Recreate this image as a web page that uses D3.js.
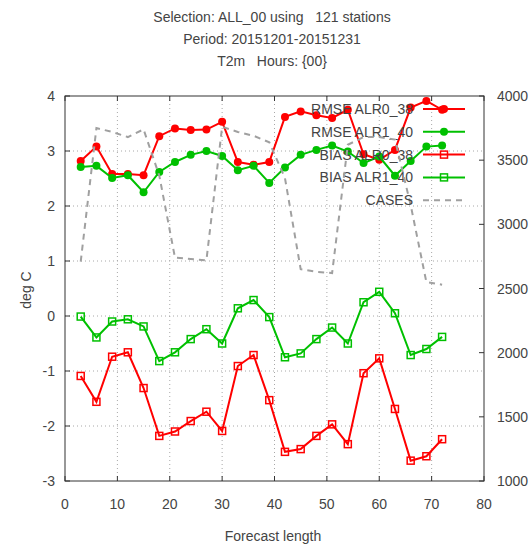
<!DOCTYPE html>
<html>
<head>
<meta charset="utf-8">
<script src="https://d3js.org/d3.v7.min.js"></script>
<style>
  body { margin: 0; background: #fff; }
  svg { display: block; font-family: "Liberation Sans", Arial, sans-serif; }
  .lbl { fill: #444; font-size: 14px; }
</style>
</head>
<body>
<svg width="532" height="549"></svg>
<script>
// forecast hours
const hours = [3, 6, 9, 12, 15, 18, 21, 24, 27, 30, 33, 36, 39, 42, 45, 48, 51, 54, 57, 60, 63, 66, 69, 72];

const rmseAlr0 = [2.82, 3.08, 2.58, 2.58, 2.56, 3.27, 3.41, 3.38, 3.39, 3.53, 2.80, 2.75, 2.80, 3.62, 3.72, 3.65, 3.60, 3.75, 2.94, 2.84, 3.02, 3.79, 3.91, 3.75];
const rmseAlr1 = [2.71, 2.73, 2.51, 2.56, 2.25, 2.62, 2.80, 2.93, 3.00, 2.91, 2.65, 2.73, 2.42, 2.70, 2.93, 3.02, 3.10, 2.99, 2.78, 2.90, 2.55, 2.82, 3.08, 3.10];
const biasAlr0 = [-1.09, -1.56, -0.74, -0.66, -1.31, -2.18, -2.10, -1.91, -1.74, -2.09, -0.91, -0.71, -1.53, -2.47, -2.42, -2.18, -1.97, -2.33, -1.04, -0.77, -1.69, -2.63, -2.55, -2.24];
const biasAlr1 = [-0.01, -0.39, -0.10, -0.06, -0.19, -0.82, -0.66, -0.42, -0.24, -0.50, 0.14, 0.29, -0.02, -0.75, -0.68, -0.42, -0.21, -0.50, 0.25, 0.44, 0.05, -0.71, -0.60, -0.38];
const cases = [2710, 3750, 3720, 3680, 3740, 3380, 2740, 2730, 2720, 3760, 3720, 3690, 3640, 3360, 2650, 2630, 2620, 3620, 3680, 3680, 3660, 3150, 2550, 2530];

const xTicks = [0, 10, 20, 30, 40, 50, 60, 70, 80];
const yTicks = [-3, -2, -1, 0, 1, 2, 3, 4];
const y2Ticks = [1000, 1500, 2000, 2500, 3000, 3500, 4000];

const titleLines = ["Selection: ALL_00 using   121 stations", "Period: 20151201-20151231", "T2m   Hours: {00}"];

const series = [
    { name: "RMSE ALR0_38", values: rmseAlr0, color: "#ff0000", marker: "circle", axis: "y" },
    { name: "RMSE ALR1_40", values: rmseAlr1, color: "#00c000", marker: "circle", axis: "y" },
    { name: "BIAS ALR0_38", values: biasAlr0, color: "#ff0000", marker: "square", axis: "y" },
    { name: "BIAS ALR1_40", values: biasAlr1, color: "#00c000", marker: "square", axis: "y" },
    { name: "CASES", values: cases, color: "#a0a0a0", marker: "none", axis: "y2" }
];

const svg = d3.select("svg");
const pLeft = 65, pRight = 484, pTop = 96, pBottom = 481;

const x = d3.scaleLinear().domain([0, 80]).range([pLeft, pRight]);
const y = d3.scaleLinear().domain([-3, 4]).range([pBottom, pTop]);
const y2 = d3.scaleLinear().domain([1000, 4000]).range([pBottom, pTop]);

// grid
const grid = svg.append("g").attr("stroke", "#a8a8a8").attr("stroke-width", 1).attr("stroke-dasharray", "1,3");
grid.selectAll("line.gx")
    .data(xTicks.slice(1, -1))
    .join("line")
    .attr("x1", d => x(d)).attr("x2", d => x(d))
    .attr("y1", pTop).attr("y2", pBottom);
grid.selectAll("line.gy")
    .data(yTicks.slice(1, -1))
    .join("line")
    .attr("x1", pLeft).attr("x2", pRight)
    .attr("y1", d => y(d)).attr("y2", d => y(d));

// ticks (inward, mirrored)
const ticks = svg.append("g").attr("stroke", "#333").attr("stroke-width", 1);
for (const t of xTicks) {
    ticks.append("line").attr("x1", x(t)).attr("x2", x(t)).attr("y1", pBottom).attr("y2", pBottom - 5);
    ticks.append("line").attr("x1", x(t)).attr("x2", x(t)).attr("y1", pTop).attr("y2", pTop + 5);
}
for (const t of yTicks) {
    ticks.append("line").attr("x1", pLeft).attr("x2", pLeft + 5).attr("y1", y(t)).attr("y2", y(t));
}
for (const t of y2Ticks) {
    ticks.append("line").attr("x1", pRight).attr("x2", pRight - 5).attr("y1", y2(t)).attr("y2", y2(t));
}

// border
svg.append("rect")
    .attr("x", pLeft).attr("y", pTop)
    .attr("width", pRight - pLeft).attr("height", pBottom - pTop)
    .attr("fill", "none").attr("stroke", "#333").attr("stroke-width", 1);

// tick labels
svg.append("g").selectAll("text")
    .data(xTicks)
    .join("text")
    .attr("class", "lbl")
    .attr("x", d => x(d)).attr("y", 509)
    .attr("text-anchor", "middle")
    .text(d => d);

svg.append("g").selectAll("text")
    .data(yTicks)
    .join("text")
    .attr("class", "lbl")
    .attr("x", 55).attr("y", d => y(d) + 5)
    .attr("text-anchor", "end")
    .text(d => d);

svg.append("g").selectAll("text")
    .data(y2Ticks)
    .join("text")
    .attr("class", "lbl")
    .attr("x", 497).attr("y", d => y2(d) + 5)
    .text(d => d);

// axis titles
svg.append("text").attr("class", "lbl")
    .attr("x", 273).attr("y", 541)
    .attr("text-anchor", "middle")
    .text("Forecast length");

svg.append("text").attr("class", "lbl")
    .attr("transform", "translate(31,290) rotate(-90)")
    .attr("text-anchor", "middle")
    .text("deg C");

// title
svg.append("g").selectAll("text")
    .data(titleLines)
    .join("text")
    .attr("class", "lbl")
    .attr("x", 272).attr("y", (d, i) => 22 + i * 22)
    .attr("text-anchor", "middle")
    .style("white-space", "pre")
    .text(d => d);

// series
const legendX = 413, legendY = 109, legendStep = 22.8;

series.forEach((s, k) => {
    const sy = s.axis === "y2" ? y2 : y;
    const g = svg.append("g");
    const line = d3.line().x((d, i) => x(hours[i])).y(d => sy(d));

    g.append("path")
        .datum(s.values)
        .attr("d", line)
        .attr("fill", "none")
        .attr("stroke", s.color)
        .attr("stroke-width", 2)
        .attr("stroke-dasharray", s.marker === "none" ? "6,5" : null);

    if (s.marker === "circle") {
        g.selectAll("circle")
            .data(s.values)
            .join("circle")
            .attr("cx", (d, i) => x(hours[i]))
            .attr("cy", d => sy(d))
            .attr("r", 4)
            .attr("fill", s.color);
    } else if (s.marker === "square") {
        g.selectAll("rect")
            .data(s.values)
            .join("rect")
            .attr("x", (d, i) => x(hours[i]) - 3.5)
            .attr("y", d => sy(d) - 3.5)
            .attr("width", 7).attr("height", 7)
            .attr("fill", "none")
            .attr("stroke", s.color)
            .attr("stroke-width", 1.5);
    }

    // key entry
    const ly = legendY + k * legendStep;
    g.append("text")
        .attr("class", "lbl")
        .attr("x", legendX).attr("y", ly + 5)
        .attr("text-anchor", "end")
        .text(s.name);
    g.append("line")
        .attr("x1", 423).attr("x2", 465)
        .attr("y1", ly).attr("y2", ly)
        .attr("stroke", s.color)
        .attr("stroke-width", 2)
        .attr("stroke-dasharray", s.marker === "none" ? "6,5" : null);
    if (s.marker === "circle") {
        g.append("circle").attr("cx", 444).attr("cy", ly).attr("r", 4).attr("fill", s.color);
    } else if (s.marker === "square") {
        g.append("rect")
            .attr("x", 440.5).attr("y", ly - 3.5)
            .attr("width", 7).attr("height", 7)
            .attr("fill", "none").attr("stroke", s.color).attr("stroke-width", 1.5);
    }
});
</script>
</body>
</html>
